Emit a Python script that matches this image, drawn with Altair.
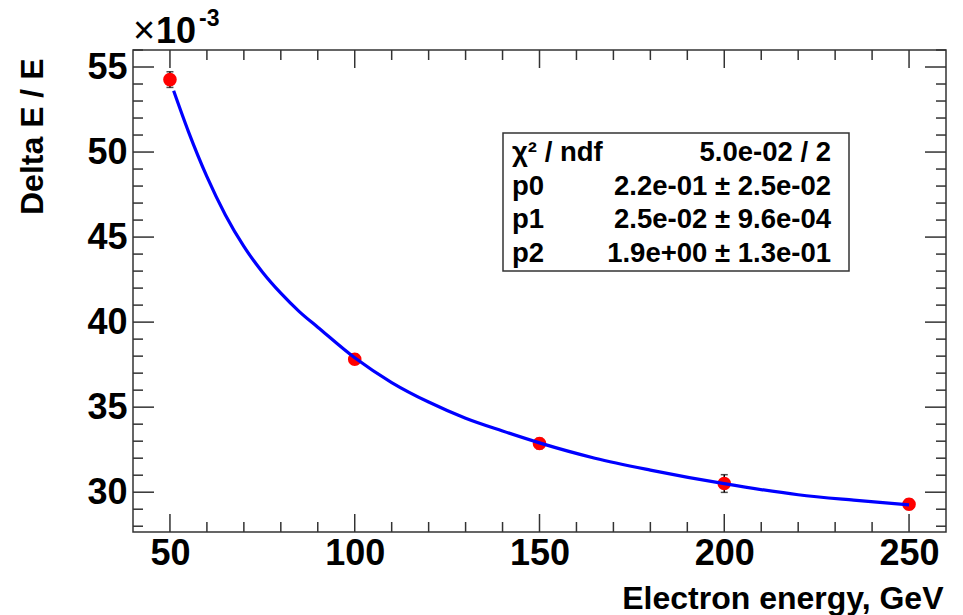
import altair as alt
import pandas as pd

# ---- data (y in units of 1e-3) ----
energy = [50, 100, 150, 200, 250]
resol = [54.26, 37.82, 32.86, 30.51, 29.29]
resol_err = [0.46, 0.30, 0.30, 0.52, 0.30]

fit_e = [51, 55, 60, 65, 70, 75, 80, 85, 90, 100, 110, 120, 130, 140, 150,
         165, 180, 200, 220, 235, 250]
fit_v = [53.6, 51.2, 48.55, 46.3, 44.45, 42.95, 41.7, 40.62, 39.7, 37.9, 36.45,
         35.3, 34.35, 33.6, 32.9, 32.0, 31.3, 30.5, 29.85, 29.53, 29.25]

x_major = [50, 100, 150, 200, 250]
x_minor = [60, 70, 80, 90, 110, 120, 130, 140, 160, 170, 180, 190, 210, 220, 230, 240]
y_major = [30, 35, 40, 45, 50, 55]
y_minor = [28, 29, 31, 32, 33, 34, 36, 37, 38, 39, 41, 42, 43, 44, 46, 47, 48, 49, 51, 52, 53, 54, 56]

stat_labels = ["χ² / ndf", "p0", "p1", "p2"]
stat_values = ["5.0e-02 / 2", "2.2e-01 ± 2.5e-02", "2.5e-02 ± 9.6e-04", "1.9e+00 ± 1.3e-01"]

W, H = 813, 482
FONT = "Liberation Sans"
TICK = "#333333"

pts = pd.DataFrame({"E": energy, "v": resol, "err": resol_err})
pts["lo"] = pts["v"] - pts["err"]
pts["hi"] = pts["v"] + pts["err"]
fit = pd.DataFrame({"E": fit_e, "v": fit_v})

xs = alt.Scale(domain=[40, 260], nice=False, zero=False)
ys = alt.Scale(domain=[27.66, 56.0], nice=False, zero=False)

x_axis = alt.Axis(values=x_major, ticks=False, domain=False, grid=False,
                  labelFont=FONT, labelFontWeight="bold", labelFontSize=36,
                  labelColor="black", labelPadding=4,
                  title="Electron energy, GeV", titleFont=FONT, titleFontWeight="bold",
                  titleFontSize=32, titleColor="black", titleX=810, titleY=76,
                  titleAlign="right", titleBaseline="alphabetic")
y_axis = alt.Axis(values=y_major, ticks=False, domain=False, grid=False,
                  labelFont=FONT, labelFontWeight="bold", labelFontSize=36,
                  labelColor="black", labelPadding=6,
                  title="Delta E / E", titleFont=FONT, titleFontWeight="bold",
                  titleFontSize=32, titleColor="black", titleX=-91, titleY=8,
                  titleAngle=270, titleAlign="right", titleBaseline="alphabetic")


def X(field):
    return alt.X(field, type="quantitative", scale=xs, axis=x_axis)


def Y(field):
    return alt.Y(field, type="quantitative", scale=ys, axis=y_axis)


curve = alt.Chart(fit).mark_line(color="#0000ff", strokeWidth=3.2, interpolate="monotone").encode(
    x=X("E"), y=Y("v"))


def xticks(vals, length, top):
    df = pd.DataFrame({"E": vals})
    y1, y2 = (0, length) if top else (H, H - length)
    return alt.Chart(df).mark_rule(color=TICK, strokeWidth=1.5).encode(
        x=X("E"), y=alt.value(y1), y2=alt.value(y2))


def yticks(vals, length, right):
    df = pd.DataFrame({"v": vals})
    x1, x2 = (W, W - length) if right else (0, length)
    return alt.Chart(df).mark_rule(color=TICK, strokeWidth=1.5).encode(
        y=Y("v"), x=alt.value(x1), x2=alt.value(x2))


ticks = [
    xticks(x_major, 18, False), xticks(x_minor, 10, False),
    xticks(x_major, 18, True), xticks(x_minor, 10, True),
    yticks(y_major, 21, False), yticks(y_minor, 10, False),
    yticks(y_major, 21, True), yticks(y_minor, 10, True),
]

errbars = alt.Chart(pts).mark_rule(color="black", strokeWidth=1.5).encode(
    x=X("E"), y=Y("lo"), y2="hi:Q")
cap_lo = alt.Chart(pts).mark_tick(color="black", thickness=1.5, size=7, orient="horizontal").encode(
    x=X("E"), y=Y("lo"))
cap_hi = alt.Chart(pts).mark_tick(color="black", thickness=1.5, size=7, orient="horizontal").encode(
    x=X("E"), y=Y("hi"))
points = alt.Chart(pts).mark_circle(color="#ff0000", opacity=1, size=185).encode(
    x=X("E"), y=Y("v"))

# exponent label above the y axis
one = pd.DataFrame({"a": [0]})
times = alt.Chart(one).mark_text(text="×", font=FONT, fontSize=38, align="left",
                                 baseline="alphabetic", color="black").encode(
    x=alt.value(0), y=alt.value(-7))
ten = alt.Chart(one).mark_text(text="10", font=FONT, fontSize=36, fontWeight="bold",
                               align="left", baseline="alphabetic", color="black").encode(
    x=alt.value(23), y=alt.value(-7))
sup = alt.Chart(one).mark_text(text="-3", font=FONT, fontSize=23, fontWeight="bold",
                               align="left", baseline="alphabetic", color="black").encode(
    x=alt.value(66), y=alt.value(-24))

# statistics box
box = alt.Chart(one).mark_rect(fill="white", stroke="#333333", strokeWidth=1.5).encode(
    x=alt.value(370), x2=alt.value(716), y=alt.value(83), y2=alt.value(221))
stat_lab = alt.Chart(one).mark_text(
    text="\n".join(stat_labels), lineBreak="\n", lineHeight=33.7,
    font=FONT, fontSize=27.5, fontWeight="bold", align="left",
    baseline="top", color="black").encode(x=alt.value(379), y=alt.value(89))
stat_val = alt.Chart(one).mark_text(
    text="\n".join(stat_values), lineBreak="\n", lineHeight=33.7,
    font=FONT, fontSize=27.5, fontWeight="bold", align="right",
    baseline="top", color="black").encode(x=alt.value(698), y=alt.value(89))

chart = alt.layer(
    *ticks, errbars, cap_lo, cap_hi, points, curve,
    box, stat_lab, stat_val, times, ten, sup
).properties(
    width=W, height=H,
    autosize=alt.AutoSizeParams(type="none"),
    padding={"left": 133, "top": 50, "right": 17, "bottom": 83},
    background="white",
).configure_view(stroke="#333333", strokeWidth=1.5)

chart.save("out.html", embed_options={"renderer": "svg", "actions": False})
